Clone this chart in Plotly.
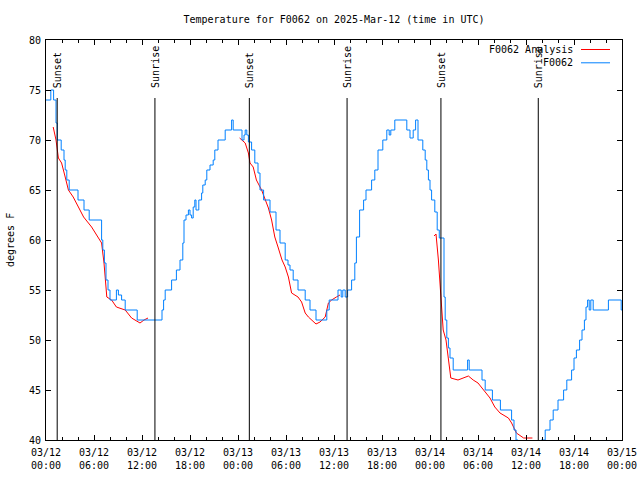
import pandas as pd
import plotly.graph_objects as go

START = pd.Timestamp("2025-03-12 00:00")

# Observed F0062 temperature (hours since 03/12 00:00 UTC, degrees F)
obs_hours = [0, 0.6, 0.95, 1.25, 1.4, 1.9, 2.25, 2.4, 2.6, 2.9, 4.0, 4.75, 5.4, 6.95, 7.1, 7.3,
             7.5, 7.75, 8.0, 8.8, 9.05, 9.45, 9.9, 11.4, 14.5, 14.7, 14.9, 15.7, 16.3, 16.75,
             17.1, 17.25, 17.5, 17.8, 18.0, 18.2, 18.4, 18.6, 18.75, 19.1, 19.45, 19.6, 19.9,
             20.1, 20.5, 20.9, 21.1, 21.5, 22.4, 23.2, 23.4, 24.5, 24.75, 24.9, 25.1, 25.3,
             25.7, 26.1, 26.5, 26.75, 27.2, 28.0, 28.75, 29.25, 29.9, 30.25, 30.5, 30.9, 31.5,
             32.4, 33.0, 33.75, 35.1, 35.4, 36.5, 36.9, 37.1, 37.4, 37.7, 38.2, 38.6, 38.8,
             39.2, 39.7, 40.0, 40.7, 41.1, 41.5, 42.1, 42.6, 42.9, 43.1, 43.6, 45.1, 45.5,
             45.9, 46.2, 46.5, 47.1, 47.4, 47.6, 47.8, 48.0, 48.2, 48.6, 48.9, 49.16, 49.75,
             49.9, 50.1, 50.3, 50.5, 50.9, 52.7, 52.9, 54.5, 54.9, 55.8, 56.8, 58.2, 58.5,
             58.75, 59.0, 61.9, 62.4, 63.0, 63.4, 64.0, 64.7, 65.1, 65.7, 66.0, 66.3, 66.7,
             67.0, 67.3, 67.5, 67.7, 67.9, 68.1, 68.4, 70.3, 71.9, 72.0]
obs_temp = [74, 75, 74, 71.7, 70, 69, 68, 67, 66, 65, 64, 63, 62, 60, 59, 57.7,
            56, 55, 54, 55, 54.5, 54, 53, 52, 53, 54, 55, 56, 57, 58,
            59.7, 62, 62.5, 63, 62.5, 62.2, 63.3, 64, 63, 64, 64.7, 65.5, 66,
            67, 67.5, 68, 69, 70, 71, 72, 71, 70, 70.5, 71, 70.5, 69.8,
            69, 67.7, 66.7, 65, 64, 62.8, 61, 59.7, 58, 57.5, 57, 56, 55,
            54, 53, 52, 53, 54, 55, 54.3, 55, 54.3, 55, 56, 57.7, 60.3,
            63, 64, 65, 66, 67, 69, 70, 71, 70.5, 71, 72, 71, 70.2,
            71, 72, 70, 69, 68, 67, 66, 65, 64, 62.8, 61, 60.2, 54.3,
            52, 50.2, 49.2, 48.2, 47, 48, 47, 46, 45, 44, 43, 42, 41,
            40, 38, 40, 41, 42, 43, 44, 45, 46, 47, 48.2, 49, 50,
            51, 52, 53.3, 54, 53, 54, 53, 54, 53, 53]

# F0062 analysis, three separate runs
ana1_hours = [0.9, 1.25, 1.55, 1.95, 2.4, 2.8, 3.4, 4.0, 4.7, 5.7, 6.55, 6.95, 7.25, 7.6,
              8.2, 8.8, 9.9, 10.7, 11.75, 12.25, 12.75]
ana1_temp = [71.3, 70, 68.2, 67.7, 66.3, 65, 64.3, 63.3, 62.3, 61.3, 60.2, 59.7, 57.7, 54.3,
             54, 53.3, 53, 52.2, 51.7, 52, 52.2]
ana2_hours = [24.2, 24.9, 25.3, 25.5, 25.9, 26.3, 26.95, 27.4, 27.8, 28.2, 28.6, 29.0, 29.5,
              29.9, 30.3, 30.7, 31.5, 31.95, 32.4, 32.8, 33.2, 33.75, 34.25, 34.9, 35.3,
              35.7, 36.3, 36.75]
ana2_temp = [70.2, 69.7, 68.7, 67.7, 67.3, 66, 65, 64, 63.2, 62, 60.3, 59.3, 58,
             57.3, 56.3, 54.7, 54.3, 53.8, 52.7, 52.3, 52, 51.6, 51.8, 52.3, 53.7,
             54, 54.3, 54.5]
ana3_hours = [48.5, 48.75, 49.05, 49.25, 49.45, 49.65, 50.0, 50.3, 50.6, 51.5, 52.1, 52.8,
              53.4, 54.0, 54.7, 55.5, 56.1, 56.75, 57.8, 58.2, 58.8, 59.7, 60.8]
ana3_temp = [60.4, 60.6, 58, 55.3, 53.3, 51, 50, 48.2, 46.2, 46, 46.2, 46.4,
             46, 45.7, 45, 44.2, 43.3, 42.7, 42.2, 41.7, 40.7, 40.2, 40.2]

# Sun events
sun_times = ["2025-03-12 01:24", "2025-03-12 13:37", "2025-03-13 01:25",
             "2025-03-13 13:38", "2025-03-14 01:22", "2025-03-14 13:32"]
sun_labels = ["Sunset", "Sunrise", "Sunset", "Sunrise", "Sunset", "Sunrise"]

x_ticks = ["2025-03-12 00:00", "2025-03-12 06:00", "2025-03-12 12:00", "2025-03-12 18:00",
           "2025-03-13 00:00", "2025-03-13 06:00", "2025-03-13 12:00", "2025-03-13 18:00",
           "2025-03-14 00:00", "2025-03-14 06:00", "2025-03-14 12:00", "2025-03-14 18:00",
           "2025-03-15 00:00"]
y_ticks = [40, 45, 50, 55, 60, 65, 70, 75, 80]

FONT = "DejaVu Sans Mono"
RED = "#ff0000"
BLUE = "#0080ff"


def to_time(hours):
    return [START + pd.Timedelta(hours=h) for h in hours]


ana_x = to_time(ana1_hours) + [None] + to_time(ana2_hours) + [None] + to_time(ana3_hours)
ana_y = ana1_temp + [None] + ana2_temp + [None] + ana3_temp

fig = go.Figure()
fig.add_trace(go.Scatter(x=ana_x, y=ana_y, mode="lines", name="F0062 Analysis",
                         line=dict(color=RED, width=1), connectgaps=False))
fig.add_trace(go.Scatter(x=to_time(obs_hours), y=obs_temp, mode="lines", name="F0062",
                         line=dict(color=BLUE, width=1, shape="hv")))

for t, lab in zip(sun_times, sun_labels):
    fig.add_shape(type="line", xref="x", yref="y", x0=t, x1=t, y0=40, y1=74.2,
                  line=dict(color="black", width=1))
    fig.add_annotation(x=t, y=75, xref="x", yref="y", text=lab, textangle=-90,
                       showarrow=False, xanchor="center", yanchor="bottom",
                       font=dict(family=FONT, size=10, color="black"))

# gnuplot-style legend (text left of sample line)
leg_names = ["F0062 Analysis", "F0062"]
leg_colors = [RED, BLUE]
for i, (nm, col) in enumerate(zip(leg_names, leg_colors)):
    yy = 1 - (9.5 + 13.3 * i) / 400
    fig.add_annotation(x=(575 - 46) / 576, y=yy, xref="paper", yref="paper", text=nm,
                       showarrow=False, xanchor="right", yanchor="middle",
                       font=dict(family=FONT, size=10, color="black"))
    fig.add_shape(type="line", xref="paper", yref="paper", x0=(581 - 46) / 576,
                  x1=(610 - 46) / 576, y0=yy, y1=yy, line=dict(color=col, width=1))

fig.add_annotation(x=-36 / 576, y=0.5, xref="paper", yref="paper", text="degrees F",
                   textangle=-90, showarrow=False, xanchor="center", yanchor="middle",
                   font=dict(family=FONT, size=10, color="black"))

fig.update_layout(
    width=640, height=480,
    margin=dict(l=46, r=18, t=40, b=40, autoexpand=False),
    paper_bgcolor="white", plot_bgcolor="white",
    showlegend=False,
    font=dict(family=FONT, size=10, color="black"),
    title=dict(text="Temperature for F0062 on 2025-Mar-12 (time in UTC)",
               x=334 / 640, xanchor="center", y=1 - 19.5 / 480, yanchor="middle",
               xref="container", yref="container",
               font=dict(family=FONT, size=10, color="black")),
    xaxis=dict(type="date", range=["2025-03-12 00:00", "2025-03-15 00:00"],
               tickvals=x_ticks, tickformat="%m/%d<br>%H:%M", automargin=False,
               ticks="inside", ticklen=5, tickcolor="black", tickwidth=1,
               ticklabelstandoff=3,
               showline=True, linecolor="black", linewidth=1, mirror="allticks",
               showgrid=False, zeroline=False,
               minor=dict(dtick=2 * 3600 * 1000, ticks="inside", ticklen=3,
                          tickcolor="black", showgrid=False),
               tickfont=dict(family=FONT, size=10, color="black")),
    yaxis=dict(range=[40, 80], tickvals=y_ticks, automargin=False,
               ticks="inside", ticklen=5, tickcolor="black", tickwidth=1,
               ticklabelstandoff=2,
               showline=True, linecolor="black", linewidth=1, mirror="allticks",
               showgrid=False, zeroline=False,
               tickfont=dict(family=FONT, size=10, color="black")),
)

fig.write_html("out.html", post_script="document.body.style.margin='0';",
               config={"displayModeBar": False})
